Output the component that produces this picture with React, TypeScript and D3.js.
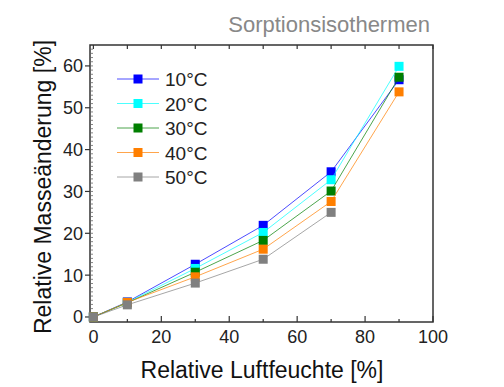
import React, { useEffect, useRef } from "react";
import * as d3 from "d3";

const humidity = [0, 10, 30, 50, 70, 90];
const seriesNames = ["10°C", "20°C", "30°C", "40°C", "50°C"];
const seriesColors = ["#0000ff", "#00ffff", "#007f00", "#ff7f00", "#808080"];
const t10 = [0, 3.6, 12.6, 21.9, 34.7, 56.7];
const t20 = [0, 3.5, 11.6, 20.2, 32.8, 59.9];
const t30 = [0, 3.4, 10.7, 18.3, 30.1, 57.3];
const t40 = [0, 3.5, 9.6, 16.2, 27.6, 53.8];
const t50 = [0, 2.9, 8.1, 13.8, 25.0];
const xTicks = [0, 20, 40, 60, 80, 100];
const yTicks = [0, 10, 20, 30, 40, 50, 60];

const W = 504;
const H = 387;
const FONT = "'Liberation Sans', Arial, sans-serif";

export default function App() {
  const ref = useRef<SVGSVGElement | null>(null);

  useEffect(() => {
    const svg = d3.select(ref.current);
    svg.selectAll("*").remove();

    const x = d3.scaleLinear().domain([-1, 100]).range([90, 433]);
    const y = d3.scaleLinear().domain([-1.2, 65]).range([322, 45]);

    const all = [t10, t20, t30, t40, t50];

    // frame
    svg
      .append("rect")
      .attr("x", 90)
      .attr("y", 45)
      .attr("width", 343)
      .attr("height", 277)
      .attr("fill", "none")
      .attr("stroke", "#333")
      .attr("stroke-width", 1.5);

    // bottom axis ticks (inward)
    svg
      .append("g")
      .selectAll("line")
      .data(d3.range(0, 101, 10))
      .enter()
      .append("line")
      .attr("x1", d => x(d))
      .attr("x2", d => x(d))
      .attr("y1", 322)
      .attr("y2", d => (d % 20 === 0 ? 316 : 319))
      .attr("stroke", "#333")
      .attr("stroke-width", 1.2);

    // top axis ticks
    svg
      .append("g")
      .selectAll("line")
      .data(d3.range(0, 101, 10))
      .enter()
      .append("line")
      .attr("x1", d => x(d))
      .attr("x2", d => x(d))
      .attr("y1", 45)
      .attr("y2", 49)
      .attr("stroke", "#333")
      .attr("stroke-width", 1.2);

    // left axis major ticks (outward)
    svg
      .append("g")
      .selectAll("line")
      .data(yTicks)
      .enter()
      .append("line")
      .attr("x1", 85)
      .attr("x2", 90)
      .attr("y1", d => y(d))
      .attr("y2", d => y(d))
      .attr("stroke", "#333")
      .attr("stroke-width", 1.2);

    // left axis minor ticks
    svg
      .append("g")
      .selectAll("line")
      .data(d3.range(-1, 65, 1))
      .enter()
      .append("line")
      .attr("x1", 90)
      .attr("x2", 93)
      .attr("y1", d => y(d))
      .attr("y2", d => y(d))
      .attr("stroke", "#666")
      .attr("stroke-width", 0.8);

    // tick labels
    svg
      .append("g")
      .selectAll("text")
      .data(xTicks)
      .enter()
      .append("text")
      .attr("x", d => x(d))
      .attr("y", 343)
      .attr("text-anchor", "middle")
      .style("font", `18px ${FONT}`)
      .attr("fill", "#222")
      .text(d => d);

    svg
      .append("g")
      .selectAll("text")
      .data(yTicks)
      .enter()
      .append("text")
      .attr("x", 83)
      .attr("y", d => y(d) + 6.5)
      .attr("text-anchor", "end")
      .style("font", `18px ${FONT}`)
      .attr("fill", "#222")
      .text(d => d);

    // series lines + markers
    all.forEach((vals, i) => {
      const pts = vals.map((v, j) => [humidity[j], v] as [number, number]);
      const line = d3
        .line<[number, number]>()
        .x(d => x(d[0]))
        .y(d => y(d[1]));
      svg
        .append("path")
        .attr("d", line(pts))
        .attr("fill", "none")
        .attr("stroke", seriesColors[i])
        .attr("stroke-opacity", 0.7)
        .attr("stroke-width", 1);
      svg
        .append("g")
        .selectAll("rect")
        .data(pts)
        .enter()
        .append("rect")
        .attr("x", d => x(d[0]) - 4.5)
        .attr("y", d => y(d[1]) - 4.5)
        .attr("width", 9)
        .attr("height", 9)
        .attr("fill", seriesColors[i]);
    });

    // legend
    const lg = svg.append("g");
    seriesNames.forEach((name, i) => {
      const cy = 79 + i * 24.5;
      lg.append("line")
        .attr("x1", 117)
        .attr("x2", 159)
        .attr("y1", cy)
        .attr("y2", cy)
        .attr("stroke", seriesColors[i])
        .attr("stroke-opacity", 0.7)
        .attr("stroke-width", 1);
      lg.append("rect")
        .attr("x", 138 - 4.5)
        .attr("y", cy - 4.5)
        .attr("width", 9)
        .attr("height", 9)
        .attr("fill", seriesColors[i]);
      lg.append("text")
        .attr("x", 165)
        .attr("y", cy + 7)
        .style("font", `19px ${FONT}`)
        .attr("fill", "#222")
        .text(name);
    });

    // title and axis labels
    svg
      .append("text")
      .attr("x", 430)
      .attr("y", 32)
      .attr("text-anchor", "end")
      .style("font", `22px ${FONT}`)
      .attr("fill", "#888")
      .text("Sorptionsisothermen");

    svg
      .append("text")
      .attr("x", 262)
      .attr("y", 378)
      .attr("text-anchor", "middle")
      .style("font", `23px ${FONT}`)
      .attr("fill", "#111")
      .text("Relative Luftfeuchte [%]");

    svg
      .append("text")
      .attr("transform", "translate(51,187) rotate(-90)")
      .attr("text-anchor", "middle")
      .style("font", `23px ${FONT}`)
      .attr("fill", "#111")
      .text("Relative Masseänderung [%]");
  }, []);

  return (
    <svg
      ref={ref}
      width={W}
      height={H}
      style={{ position: "absolute", left: 0, top: 0, background: "#fff" }}
    />
  );
}
